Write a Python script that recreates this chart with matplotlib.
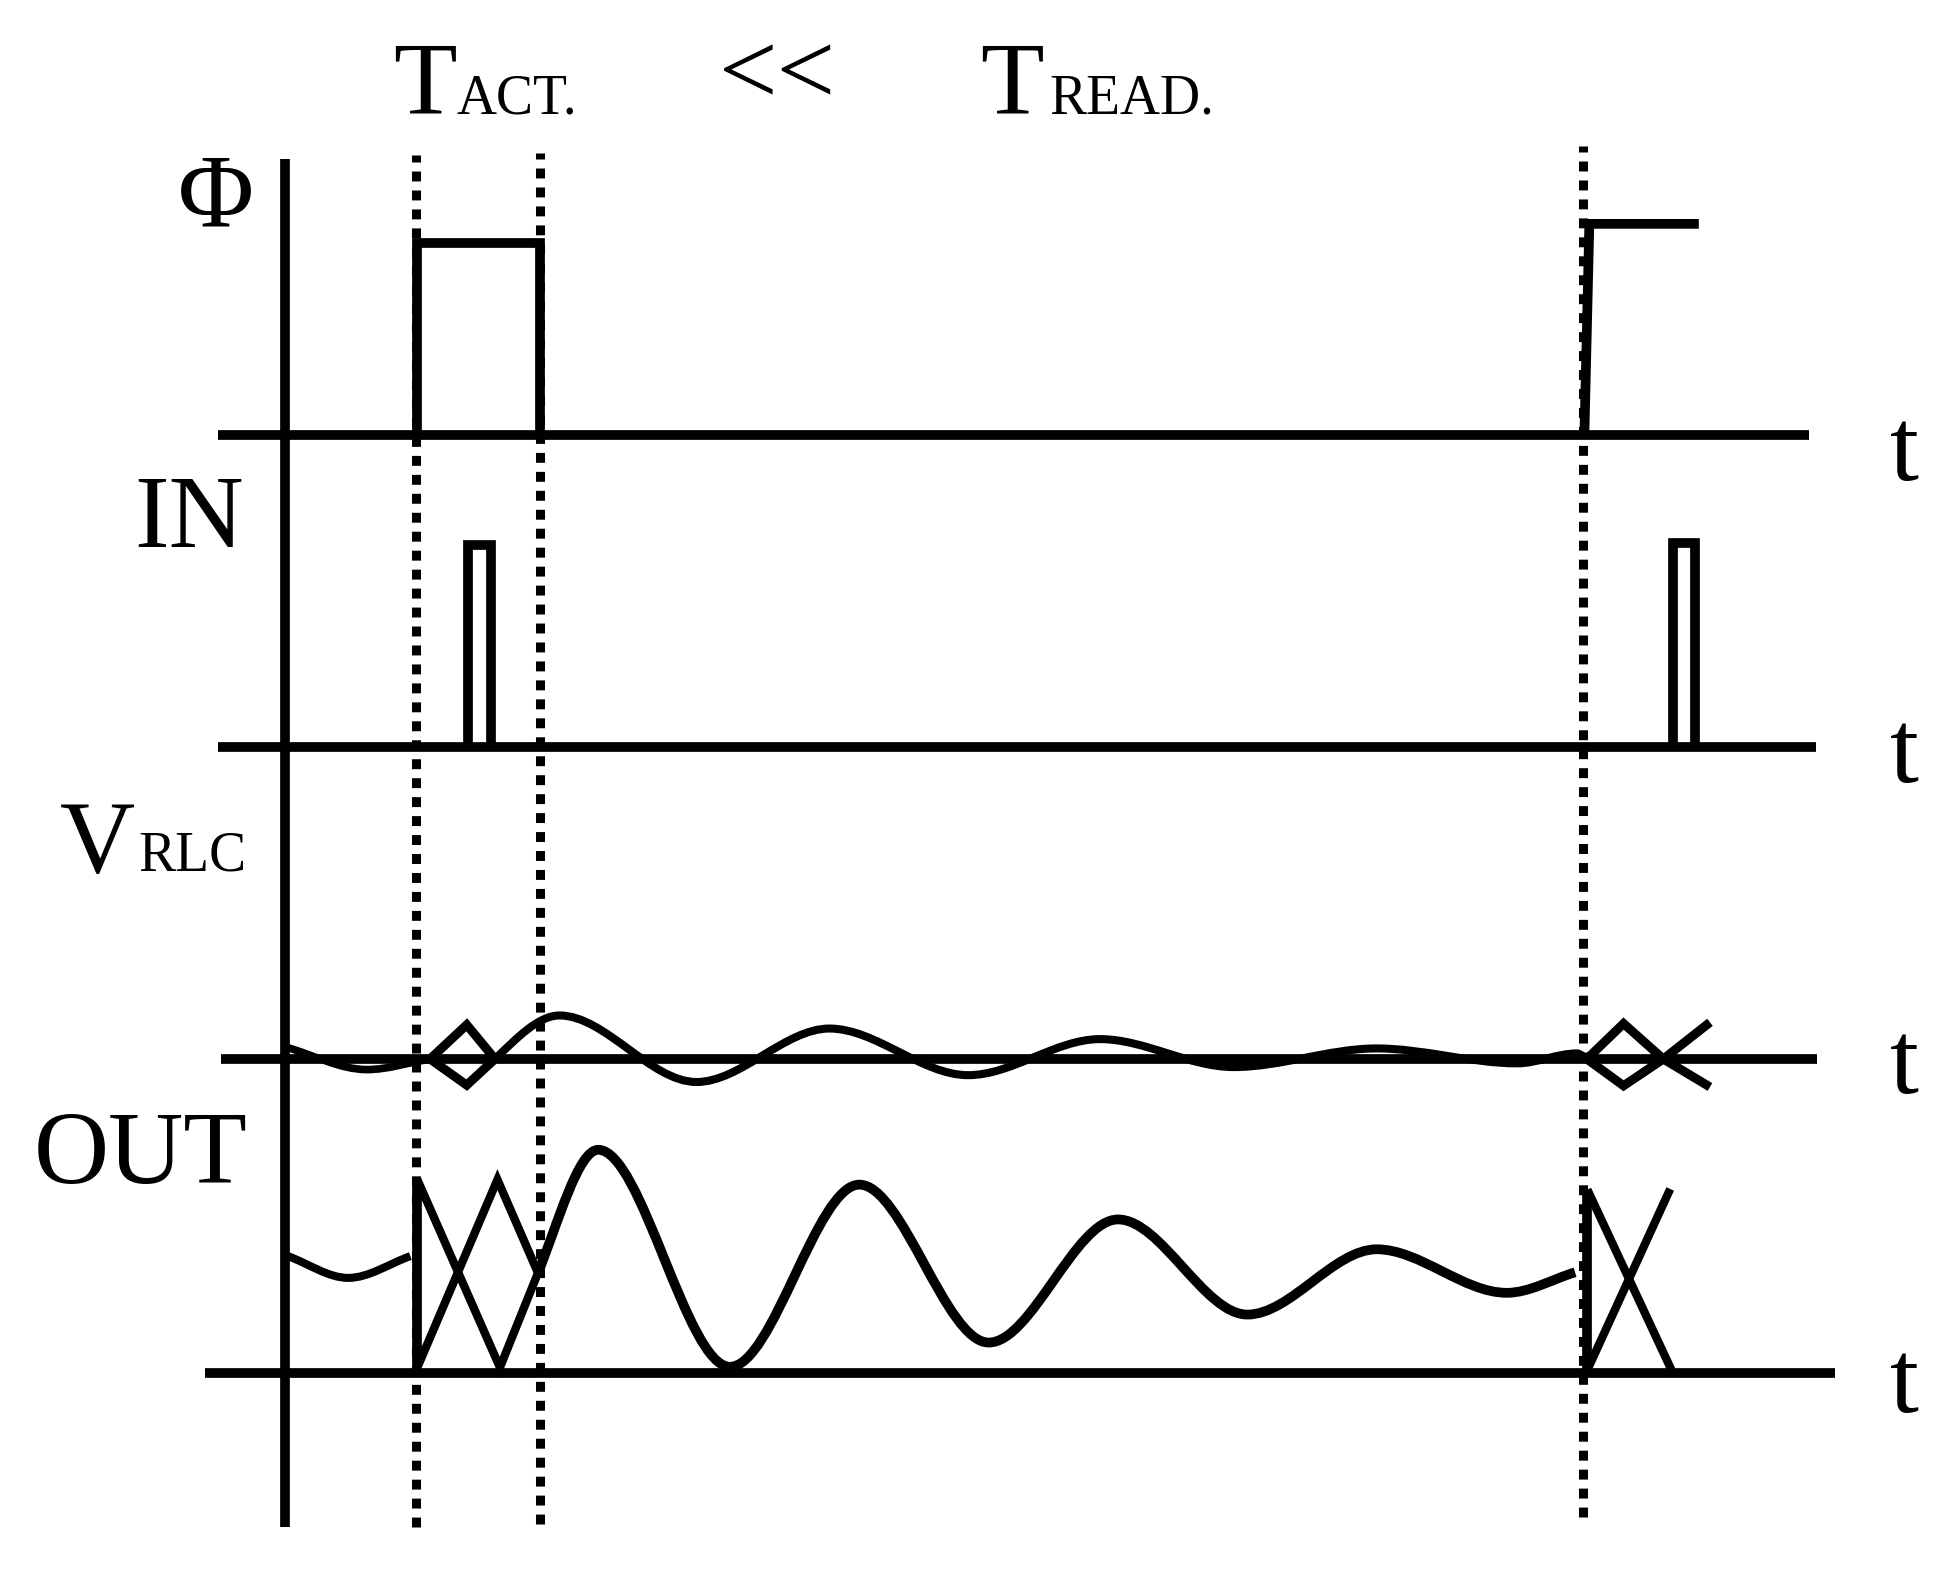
import numpy as np
import matplotlib
matplotlib.use("Agg")
import matplotlib.pyplot as plt
from matplotlib.path import Path
from matplotlib.patches import PathPatch

plt.rcParams['font.family'] = ['Liberation Serif', 'DejaVu Serif']

# ---------------- data (time axis t, signal levels relative to each lane baseline) -------------
T_ACT_START = 105.5
T_ACT_END = 205.0
T_READ = 1044.0

# Phi
phi_pulse_t = [106.5, 106.5, 205.5, 205.5]
phi_pulse_v = [0, 155, 155, 0]
phi_step_t = [1045, 1049, 1137]
phi_step_v = [0, 170, 170]

# IN
in_pulse1_t = [147, 147, 166, 166]
in_pulse1_v = [0, 162, 162, 0]
in_pulse2_t = [1116, 1116, 1134, 1134]
in_pulse2_v = [0, 164, 164, 0]

# V_RLC
v_lead_t = [1, 66, 116.8]
v_lead_v = [9.5, -8.5, 0]
v_dia_t = [116.8, 146.3, 169]
v_dia_up = [0, 27.5, 0]
v_dia_lo = [0, -21, 0]
v_wave_t = [169, 221, 331, 438, 549.5, 655.5, 763, 878, 991, 1039, 1047]
v_wave_v = [0, 35, -18.5, 24.5, -13, 16, -6.5, 8.5, -3.5, 4.5, 0]
v_x2_t = [1047, 1076.5, 1108.5, 1146]
v_x2_up = [0, 28.5, 0, -22.5]
v_x2_lo = [0, -21.5, 0, 29.5]

# OUT
out_lead_t = [2.5, 51, 101]
out_lead_v = [94, 76.5, 94]
out_x1_t = [106.6, 173, 203.6]
out_x1_a = [155.5, 4.5, 80.5]
out_x1_b = [4.5, 155.5, 80.5]
out_wave_t = [203.6, 252, 358, 462, 566, 670, 774, 878, 982.6, 1037.5]
out_wave_v = [80.5, 179.5, 5, 151.5, 24.5, 123.5, 47, 99.5, 64.5, 81]
out_x2_t = [1047.4, 1115]
out_x2_a = [147.5, 2.5]
out_x2_b = [2.5, 148]

# ---------------- layout -------------
BASE = {'phi': 918, 'in': 667.5, 'v': 416.5, 'out': 164}
BASE_SPAN = {'phi': (-54, 1226), 'in': (-54, 1231), 'v': (-51, 1232), 'out': (-64, 1246.6)}

W, H = 1950, 1577
fig = plt.figure(figsize=(W / 100, H / 100), dpi=100)
ax = fig.add_axes([0, 0, 1, 1])
ax.set_xlim(-229, 1568 - 229)
ax.set_ylim(0, 1268)
ax.axis('off')

LW = 7.0
K = 'black'


def poly(t, v, lane, lw=LW):
    y0 = BASE[lane]
    ax.plot(t, np.asarray(v, float) + y0, color=K, lw=lw,
            solid_joinstyle='miter', solid_capstyle='butt')


def smooth(t, v, lane, start_slope=None, lw=LW):
    y0 = BASE[lane]
    t = np.asarray(t, float)
    v = np.asarray(v, float)
    n = len(t)
    m = np.zeros(n)
    for i in range(n):
        if i == 0:
            m[i] = start_slope if start_slope is not None else (v[1] - v[0]) / (t[1] - t[0])
        elif i == n - 1:
            m[i] = (v[i] - v[i - 1]) / (t[i] - t[i - 1])
        else:
            if (v[i] - v[i - 1]) * (v[i + 1] - v[i]) <= 0:
                m[i] = 0
            else:
                m[i] = (v[i + 1] - v[i - 1]) / (t[i + 1] - t[i - 1])
    verts = [(t[0], y0 + v[0])]
    codes = [Path.MOVETO]
    for i in range(n - 1):
        d = (t[i + 1] - t[i]) / 3
        verts += [(t[i] + d, y0 + v[i] + m[i] * d),
                  (t[i + 1] - d, y0 + v[i + 1] - m[i + 1] * d),
                  (t[i + 1], y0 + v[i + 1])]
        codes += [Path.CURVE4] * 3
    ax.add_patch(PathPatch(Path(verts, codes), fill=False, edgecolor=K, lw=lw,
                           capstyle='butt', joinstyle='round'))


# baselines
for lane, (a, b) in BASE_SPAN.items():
    ax.plot([a, b], [BASE[lane]] * 2, color=K, lw=LW, solid_capstyle='butt')

# main vertical axis
ax.plot([0, 0], [40, 1140], color=K, lw=7.0, solid_capstyle='butt')

# dotted markers
for tx, (y1, y2) in zip([T_ACT_START, T_ACT_END, T_READ], [(40, 1143), (43, 1145), (48, 1151)]):
    ax.plot([tx, tx], [y1, y2], color=K, lw=6.5, linestyle=(0, (1.1, 1.0)),
            dash_capstyle='butt')

# Phi
poly(phi_pulse_t, phi_pulse_v, 'phi')
poly(phi_step_t, phi_step_v, 'phi')

# IN
poly(in_pulse1_t, in_pulse1_v, 'in')
poly(in_pulse2_t, in_pulse2_v, 'in')

# V_RLC
smooth(v_lead_t, v_lead_v, 'v', lw=5.5)
poly(v_dia_t, v_dia_up, 'v', lw=6.5)
poly(v_dia_t, v_dia_lo, 'v', lw=6.5)
smooth(v_wave_t, v_wave_v, 'v', start_slope=0.95, lw=5.8)
poly(v_x2_t, v_x2_up, 'v', lw=6.5)
poly(v_x2_t, v_x2_lo, 'v', lw=6.5)

# OUT
smooth(out_lead_t, out_lead_v, 'out', lw=5.8)
poly([out_x1_t[0], out_x1_t[0]], [out_x1_b[0], out_x1_a[0]], 'out')
poly(out_x1_t, out_x1_a, 'out', lw=6.0)
poly([out_x1_t[0], 171, 203.6], out_x1_b, 'out', lw=6.0)
smooth(out_wave_t, out_wave_v, 'out', start_slope=2.48, lw=7.0)
poly([out_x2_t[0], out_x2_t[0]], [out_x2_b[0], out_x2_a[0]], 'out')
poly(out_x2_t, out_x2_a, 'out', lw=6.0)
poly([out_x2_t[0], 1114], out_x2_b, 'out', lw=6.0)

# ---------------- text -------------
BIG = 75
SMALL = 40
txt = dict(color=K, ha='left', va='baseline')
ax.text(87, 1177, 'T', fontsize=BIG, **txt)
ax.text(138, 1177, 'ACT.', fontsize=SMALL, **txt)
ax.text(349, 1184, '<<', fontsize=BIG, **txt)
ax.text(559, 1177, 'T', fontsize=BIG, **txt)
ax.text(615, 1177, 'READ.', fontsize=SMALL, **txt)

ax.text(-86, 1087, 'Φ', fontsize=BIG, **txt)
ax.text(-121, 828, 'IN', fontsize=BIG, **txt)
ax.text(-181, 567, 'V', fontsize=BIG, **txt)
ax.text(-118, 568, 'RLC', fontsize=SMALL, **txt)
ax.text(-202, 317, 'OUT', fontsize=BIG, **txt)

for yb in [882, 639, 389, 133]:
    ax.text(1291, yb, 't', fontsize=BIG, **txt)

fig.savefig('out.png', dpi=100, facecolor='white')
